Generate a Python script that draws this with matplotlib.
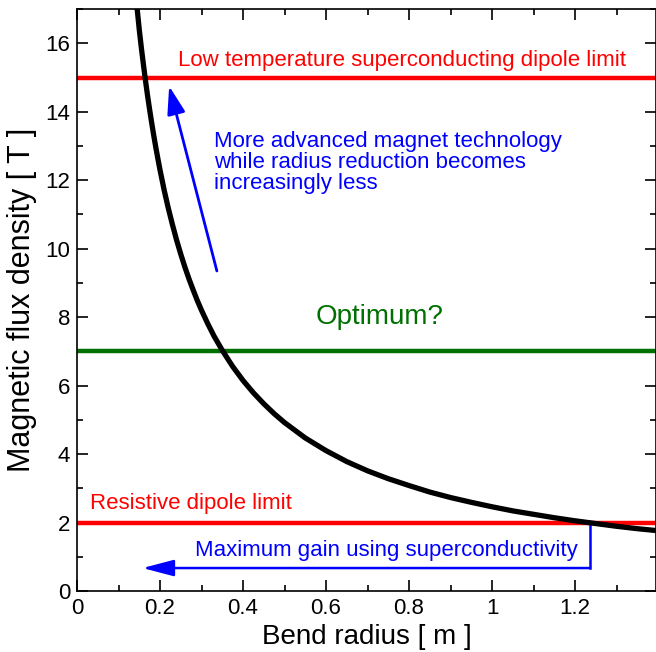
import numpy as np
import matplotlib
matplotlib.use("Agg")
import matplotlib.pyplot as plt
from matplotlib.ticker import MultipleLocator

plt.rcParams['font.family'] = ['Liberation Sans', 'DejaVu Sans']

# bend radius [m] vs field [T]
radius = [0.145, 0.15, 0.155, 0.16, 0.165, 0.17, 0.175, 0.18, 0.185, 0.19, 0.195, 0.2,
          0.21, 0.22, 0.23, 0.24, 0.25, 0.26, 0.27, 0.28, 0.29, 0.3, 0.315, 0.33, 0.35,
          0.375, 0.4, 0.425, 0.45, 0.475, 0.5, 0.55, 0.6, 0.65, 0.7, 0.75, 0.8, 0.85,
          0.9, 0.95, 1.0, 1.05, 1.1, 1.15, 1.2, 1.25, 1.3, 1.35, 1.4]
field = [17.0, 16.4, 15.87, 15.38, 14.91, 14.47, 14.06, 13.67, 13.3, 12.95, 12.62, 12.3,
         11.71, 11.18, 10.7, 10.25, 9.84, 9.46, 9.11, 8.79, 8.48, 8.2, 7.81, 7.45, 7.03,
         6.56, 6.15, 5.79, 5.47, 5.18, 4.92, 4.47, 4.1, 3.78, 3.51, 3.28, 3.08, 2.89,
         2.73, 2.59, 2.46, 2.34, 2.24, 2.14, 2.05, 1.97, 1.89, 1.82, 1.76]

sc_limit = 15
resistive_limit = 2
optimum = 7
r_at_resistive = 1.236

fig = plt.figure(figsize=(6.56, 6.52), dpi=100)
ax = fig.add_axes([0.1174, 0.0936, 0.8826, 0.8924])

ax.axhline(sc_limit, color='#ff0000', lw=3.2, zorder=2)
ax.axhline(resistive_limit, color='#ff0000', lw=3.2, zorder=2)
ax.axhline(optimum, color='#007000', lw=3.2, zorder=2)
ax.plot(radius, field, color='black', lw=3.8, zorder=3, solid_joinstyle='round')

ax.text(0.243, 15.2, "Low temperature superconducting dipole limit", color='#ff0000',
        fontsize=16, va='bottom')
ax.text(0.331, 13.45, "More advanced magnet technology\nwhile radius reduction becomes\nincreasingly less",
        color='#0000ff', fontsize=16, va='top', linespacing=1.0)
ax.annotate("", xy=(0.222, 14.75), xytext=(0.337, 9.35),
            arrowprops=dict(arrowstyle='-|>,head_length=1.7,head_width=0.55',
                            color='#0000ff', lw=2, shrinkA=0, shrinkB=0))
ax.text(0.728, 8.0, "Optimum?", color='#007000', fontsize=20, ha='center', va='center')
ax.text(0.031, 2.25, "Resistive dipole limit", color='#ff0000', fontsize=16, va='bottom')
ax.text(0.284, 1.17, "Maximum gain using superconductivity", color='#0000ff',
        fontsize=16, va='center')

# bracket showing the radius gain
ax.plot([r_at_resistive, r_at_resistive], [resistive_limit, 0.67], color='#0000ff', lw=1.8, zorder=2)
ax.annotate("", xy=(0.158, 0.67), xytext=(r_at_resistive, 0.67),
            arrowprops=dict(arrowstyle='-|>,head_length=1.9,head_width=0.5',
                            color='#0000ff', lw=1.8, shrinkA=0, shrinkB=0))

ax.set_xlim(0, 1.395)
ax.set_ylim(0, 17)
ax.xaxis.set_major_locator(MultipleLocator(0.2))
ax.xaxis.set_minor_locator(MultipleLocator(0.1))
ax.yaxis.set_major_locator(MultipleLocator(2))
ax.yaxis.set_minor_locator(MultipleLocator(1))
ax.xaxis.set_major_formatter(plt.FuncFormatter(lambda v, p: f"{v:g}"))
ax.tick_params(which='both', direction='in', top=True, right=True, labelsize=16, width=1.2)
ax.tick_params(which='major', length=8, pad=5)
ax.tick_params(which='minor', length=4)
for s in ax.spines.values():
    s.set_linewidth(1.2)

ax.set_xlabel("Bend radius [ m ]", fontsize=20, labelpad=4)
ax.set_ylabel("Magnetic flux density [ T ]", fontsize=22, labelpad=6)

fig.savefig("out.png", dpi=100)
